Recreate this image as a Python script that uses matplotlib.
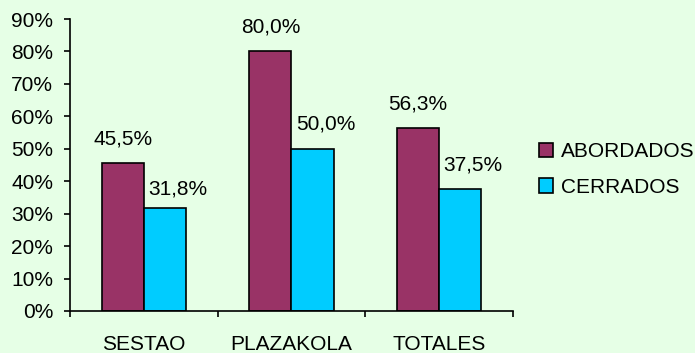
import numpy as np
import matplotlib.pyplot as plt
from matplotlib.ticker import FuncFormatter

plt.rcParams['font.family'] = ['Liberation Sans', 'DejaVu Sans']

# datos
categorias = ['SESTAO', 'PLAZAKOLA', 'TOTALES']
abordados = [45.5, 80.0, 56.3]
cerrados = [31.8, 50.0, 37.5]
etiquetas_abordados = ['45,5%', '80,0%', '56,3%']
etiquetas_cerrados = ['31,8%', '50,0%', '37,5%']

fondo = '#E6FFE6'
color_ab = '#993366'
color_ce = '#00CCFF'
fs = 15

fig = plt.figure(figsize=(6.95, 3.53), dpi=100, facecolor=fondo)
ax = fig.add_axes([0.1007, 0.119, 0.6374, 0.827])
ax.set_facecolor(fondo)

x = np.arange(len(categorias))
w = 0.285
b1 = ax.bar(x - w / 2, abordados, w, color=color_ab, edgecolor='black', linewidth=1.2, label='ABORDADOS')
b2 = ax.bar(x + w / 2, cerrados, w, color=color_ce, edgecolor='black', linewidth=1.2, label='CERRADOS')

# etiquetas de valores
for i in range(len(categorias)):
    ax.annotate(etiquetas_abordados[i], (x[i] - w / 2, abordados[i]), xytext=(0, 15),
                textcoords='offset pixels', ha='center', va='bottom', fontsize=fs)
    dy = 9 if i == 0 else 15
    ax.annotate(etiquetas_cerrados[i], (x[i] + w / 2, cerrados[i]), xytext=(13, dy),
                textcoords='offset pixels', ha='center', va='bottom', fontsize=fs)

ax.set_xlim(-0.5, 2.5)
ax.set_ylim(0, 90)
ax.set_yticks(np.arange(0, 91, 10))
ax.yaxis.set_major_formatter(FuncFormatter(lambda v, p: f'{int(v)}%'))
ax.tick_params(axis='y', labelsize=fs, length=4, width=1.2, direction='out', pad=8)

ax.set_xticks([-0.5, 0.5, 1.5, 2.5])
ax.set_xticklabels([])
ax.set_xticks(x, minor=True)
ax.set_xticklabels(categorias, minor=True)
ax.tick_params(axis='x', which='major', length=4, width=1.2, direction='out')
ax.tick_params(axis='x', which='minor', length=0, labelsize=fs, pad=17)

for s in ['top', 'right']:
    ax.spines[s].set_visible(False)
for s in ['left', 'bottom']:
    ax.spines[s].set_linewidth(1.2)

fig.legend(handles=[b1, b2], loc='center left', bbox_to_anchor=(0.775, 0.52), frameon=False,
           fontsize=fs, handlelength=0.7, handleheight=0.7, handletextpad=0.35, labelspacing=0.8,
           borderaxespad=0, borderpad=0)

fig.savefig('out.png', dpi=100, facecolor=fondo)
